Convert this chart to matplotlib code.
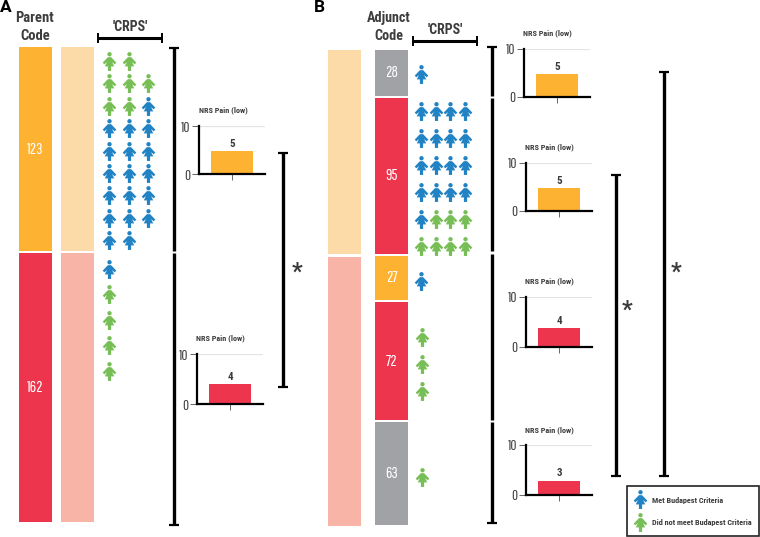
import logging
import matplotlib
matplotlib.use("Agg")
import matplotlib.pyplot as plt
from matplotlib.path import Path

logging.getLogger("matplotlib.font_manager").setLevel(logging.ERROR)

W, H = 760, 537

# data
parent_counts = [123, 162]
adjunct_counts = [28, 95, 27, 72, 63]
pain_a = [4.8, 4.0]
pain_a_labels = ["5", "4"]
pain_b = [4.8, 4.7, 3.8, 2.9]
pain_b_labels = ["5", "5", "4", "3"]
# b = met Budapest criteria, g = did not meet
icons_a_top = ["gg", "ggg", "ggb", "bbb", "bbb", "bbb", "bbb", "bbb", "bb"]
icons_a_low = ["b", "g", "g", "g", "g"]
icons_b_28 = ["b"]
icons_b_95 = ["bbbb", "bbbb", "bbbb", "bbbb", "bggg", "gggg"]
icons_b_27 = ["b"]
icons_b_72 = ["g", "g", "g"]
icons_b_63 = ["g"]
legend_labels = ["Met Budapest Criteria", "Did not meet Budapest Criteria"]

ORANGE = "#FDB232"
RED = "#EE354E"
GREY = "#A0A2A6"
L_ORANGE = "#FDDBA8"
L_RED = "#F9B4A8"
BLUE = "#2283C4"
GREEN = "#78BE57"
DARK = "#3C3C3C"
COND = ["Roboto Condensed", "Roboto", "DejaVu Sans"]
THIN = ["Pathway Gothic One", "Roboto Condensed", "Roboto", "DejaVu Sans"]
SANS = ["Roboto", "DejaVu Sans"]

# little person marker, drawn in its own unit box
body = [(0.17, 0.46), (0.72, -0.12), (0.55, -0.3), (0.27, -0.06), (0.5, -0.52), (0.17, -0.52),
        (0.17, -1.0), (-0.17, -1.0), (-0.17, -0.52), (-0.5, -0.52), (-0.27, -0.06),
        (-0.55, -0.3), (-0.72, -0.12), (-0.17, 0.46), (0.17, 0.46)]
person = Path.make_compound_path(Path.circle((0, 0.77), 0.23), Path(body, closed=True))
ICON = 185

fig = plt.figure(figsize=(W / 100, H / 100), dpi=100)
ax = fig.add_axes([0, 0, 1, 1])
ax.set_xlim(0, W)
ax.set_ylim(H, 0)
ax.axis("off")


def stack(x, top, counts, colors, scale, gap=2, width=33, labels=True):
    y = top
    for c, col in zip(counts, colors):
        h = c * scale
        ax.bar(x, h, width=width, bottom=y, color=col, align="edge")
        if labels:
            ax.text(x + width / 2, y + h / 2, str(c), color="white", fontsize=11.5,
                    family=THIN, ha="center", va="center")
        y += h + gap


def icons(rows, x0, y0, dx, dy):
    for r, row in enumerate(rows):
        for c, kind in enumerate(row):
            ax.scatter(x0 + c * dx, y0 + r * dy, marker=person, s=ICON, linewidths=0,
                       color=BLUE if kind == "b" else GREEN)


def vline(x, y0, y1, top_cap=False, bottom_cap=False):
    ax.plot([x, x], [y0, y1], color="black", lw=2.4, solid_capstyle="butt")
    if top_cap:
        ax.plot([x - 5, x + 5], [y0, y0], color="black", lw=1.6, solid_capstyle="butt")
    if bottom_cap:
        ax.plot([x - 5, x + 5], [y1, y1], color="black", lw=1.6, solid_capstyle="butt")


def crps(x0, x1, y):
    ax.plot([x0, x1], [y, y], color="black", lw=2.2, solid_capstyle="butt")
    for x in (x0, x1):
        ax.plot([x, x], [y - 5, y + 5], color="black", lw=1.4, solid_capstyle="butt")
    ax.text((x0 + x1) / 2, y - 11, "'CRPS'", fontsize=10, family=COND, weight="bold",
            color=DARK, ha="center", va="center")


def pain(x, y10, y0, right, value, label, color, title_x, title_y):
    a = fig.add_axes([x / W, 1 - y0 / H, (right - x) / W, (y0 - y10) / H])
    a.patch.set_alpha(0)
    a.bar([0], [value], width=0.64, color=color)
    a.set_xlim(-0.5, 0.5)
    a.set_ylim(0, 10)
    a.set_yticks([0, 10])
    a.set_xticks([0])
    a.set_xticklabels([""])
    a.axhline(10, color="#E4E4E4", lw=0.9, zorder=0)
    for s in ("top", "right"):
        a.spines[s].set_visible(False)
    for s in ("left", "bottom"):
        a.spines[s].set_linewidth(1.6)
    a.spines["bottom"].set_zorder(5)
    a.tick_params(axis="y", length=5, width=0.7, color="#666666", labelsize=10.5, labelcolor=DARK, pad=1.5)
    a.tick_params(axis="x", length=4, width=0.7, color="#666666")
    for t in a.get_yticklabels():
        t.set_family(THIN)
    a.text(0, value + 0.5, label, fontsize=8, weight="bold", family=COND, color=DARK,
           ha="center", va="bottom")
    ax.text(title_x, title_y, "NRS Pain (low)", fontsize=5.9, weight="bold", family=COND,
            color=DARK, ha="center", va="center")


# panel A
ax.text(6, 8, "A", fontsize=12.5, weight="bold", family=SANS, ha="center", va="center")
ax.text(35, 27, "Parent\nCode", fontsize=10.5, weight="bold", family=COND, color=DARK,
        ha="center", va="center", linespacing=1.3)
crps(98, 162, 38)
stack(19, 47, parent_counts, [ORANGE, RED], 1.66)
stack(61, 47, parent_counts, [L_ORANGE, L_RED], 1.66, labels=False)
icons(icons_a_top, 109, 61, 19.5, 22.4)
icons(icons_a_low, 109, 269, 0, 25.4)
vline(174, 48, 251, top_cap=True)
vline(174, 253, 525, bottom_cap=True)
vline(283, 153, 387, top_cap=True, bottom_cap=True)
ax.text(297, 272, "*", fontsize=17, weight="bold", family=SANS, color=DARK, ha="center", va="center")
pain(199, 126, 174, 265, pain_a[0], pain_a_labels[0], ORANGE, 223, 110)
pain(197, 354, 404, 263, pain_a[1], pain_a_labels[1], RED, 220, 338)

# panel B
ax.text(319, 8, "B", fontsize=12.5, weight="bold", family=SANS, ha="center", va="center")
ax.text(389, 27, "Adjunct\nCode", fontsize=10.2, weight="bold", family=COND, color=DARK,
        ha="center", va="center", linespacing=1.3)
crps(413, 477, 41)
stack(328, 50, parent_counts, [L_ORANGE, L_RED], 1.66, gap=3, labels=False)
stack(375, 50, adjunct_counts, [GREY, RED, ORANGE, RED, GREY], 1.64)
icons(icons_b_28, 421, 74, 14.7, 27)
icons(icons_b_95, 421, 111, 14.7, 27)
icons(icons_b_27, 421, 281, 14.7, 27)
icons(icons_b_72, 422, 337, 14.7, 27)
icons(icons_b_63, 422, 477, 14.7, 27)
vline(492, 47, 96, top_cap=True)
vline(492, 98, 251)
vline(492, 254, 420)
vline(492, 422, 523, bottom_cap=True)
vline(616, 175, 476, top_cap=True, bottom_cap=True)
vline(664, 72, 476, top_cap=True, bottom_cap=True)
ax.text(627, 310, "*", fontsize=17, weight="bold", family=SANS, color=DARK, ha="center", va="center")
ax.text(676, 272, "*", fontsize=17, weight="bold", family=SANS, color=DARK, ha="center", va="center")
pain(524, 49, 97, 590, pain_b[0], pain_b_labels[0], ORANGE, 547, 33)
pain(526, 163, 211, 592, pain_b[1], pain_b_labels[1], ORANGE, 549, 147)
pain(526, 297, 347, 592, pain_b[2], pain_b_labels[2], RED, 549, 281)
pain(526, 445, 495, 592, pain_b[3], pain_b_labels[3], RED, 549, 430)

# legend
ax.add_patch(plt.Rectangle((627, 486), 132, 50, fill=False, ec="#222222", lw=1.2))
ax.scatter(640, 499, marker=person, s=ICON, linewidths=0, color=BLUE)
ax.scatter(640, 522, marker=person, s=ICON, linewidths=0, color=GREEN)
ax.text(652, 500, legend_labels[0], fontsize=5.9, weight="bold", family=COND, color=DARK, va="center")
ax.text(652, 522, legend_labels[1], fontsize=5.9, weight="bold", family=COND, color=DARK, va="center")

fig.savefig("out.png", dpi=100)
